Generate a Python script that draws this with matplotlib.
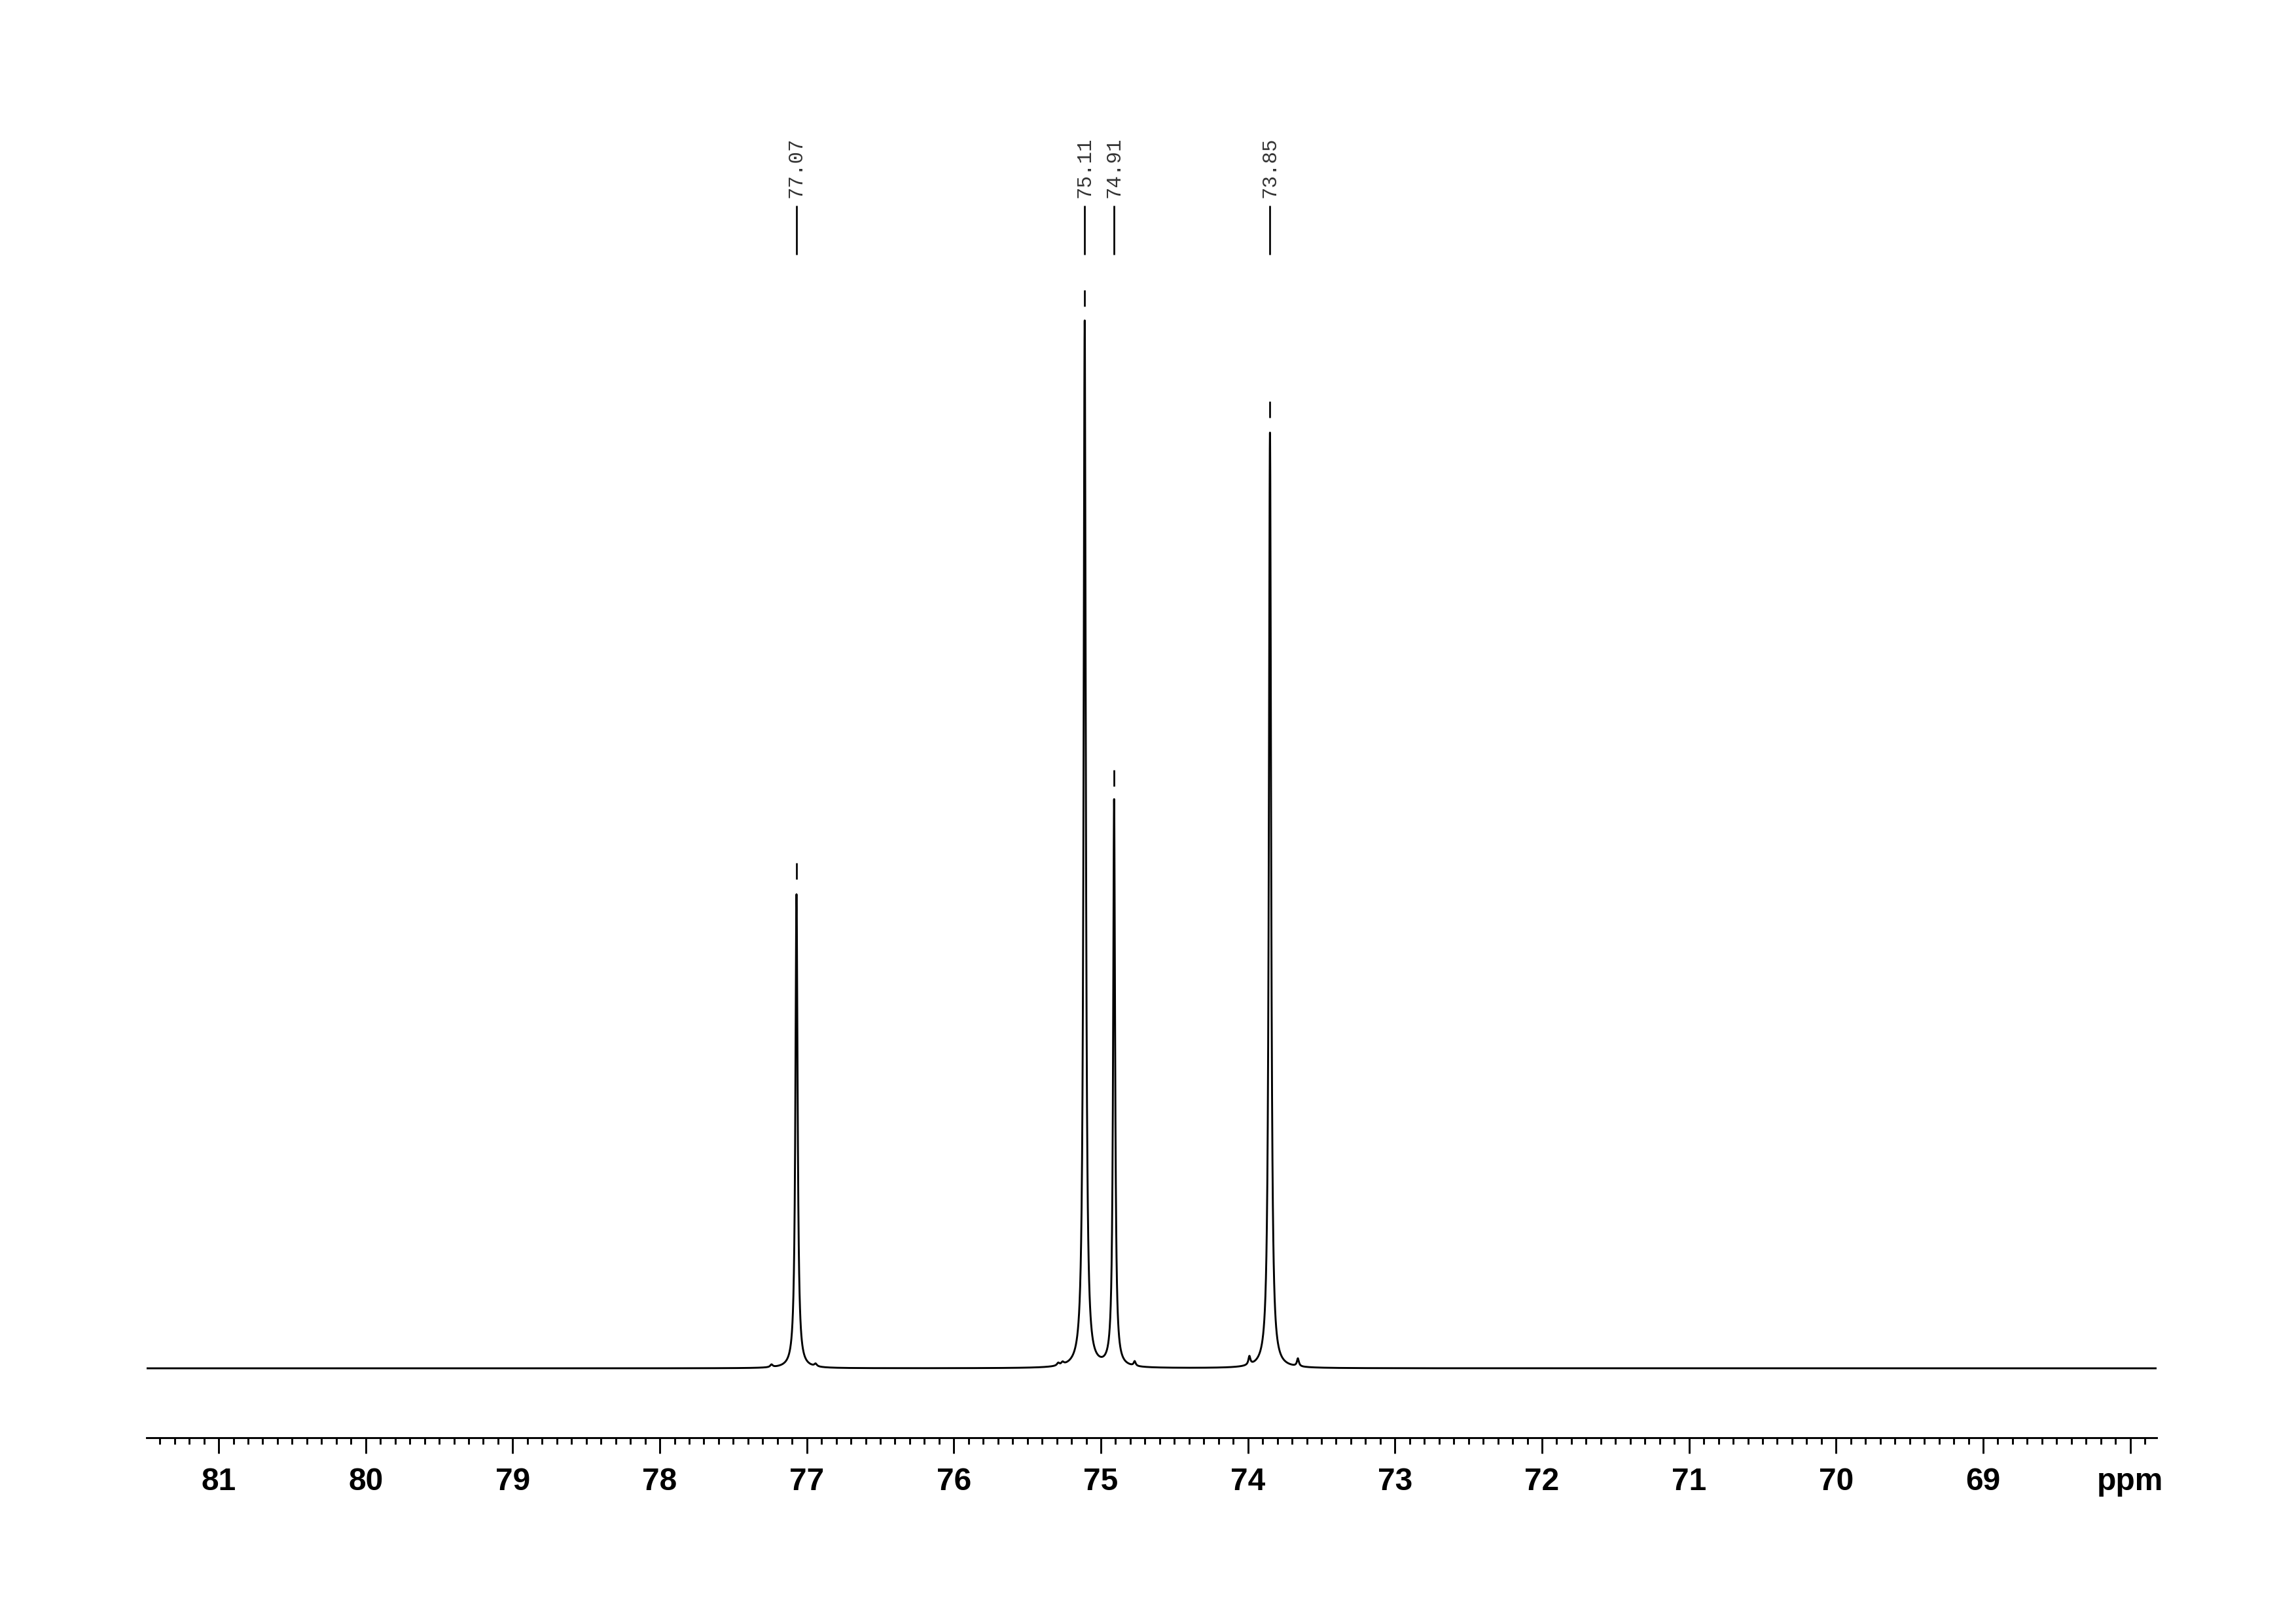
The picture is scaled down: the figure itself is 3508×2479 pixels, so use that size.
import numpy as np
import matplotlib
matplotlib.use('Agg')
import matplotlib.pyplot as plt

# Peak list (ppm, intensity in arbitrary units, half-width in ppm)
peak_ppm = [77.07, 75.11, 74.91, 73.85]
peak_height = [724, 1599, 866, 1429]
peak_hwhm = [0.009, 0.009, 0.008, 0.009]

# Small satellite bumps on the baseline
bump_ppm = [77.24, 76.94, 75.29, 75.26, 74.77, 73.99, 73.66]
bump_height = [4, 4, 4, 4, 7, 13, 12]
bump_hwhm = [0.01, 0.01, 0.01, 0.01, 0.008, 0.008, 0.008]

# Picked peak labels
label_ppm = [77.07, 75.11, 74.91, 73.85]
label_text = ['77.07', '75.11', '74.91', '73.85']

# Axis ticks
major_ticks = [81, 80, 79, 78, 77, 76, 75, 74, 73, 72, 71, 70, 69, 68]
major_labels = ['81', '80', '79', '78', '77', '76', '75', '74', '73', '72', '71', '70', '69', 'ppm']

x_left, x_right = 81.49, 67.82

# Build the spectrum from the peak list (Lorentzian lines)
ppm = np.arange(x_right, x_left, 0.0004)
spec = np.zeros_like(ppm)
for c, h, w in zip(peak_ppm + bump_ppm, peak_height + bump_height, peak_hwhm + bump_hwhm):
    spec += h / (1 + ((ppm - c) / w) ** 2)

fig = plt.figure(figsize=(3508 / 300, 2479 / 300), dpi=300)
ax = fig.add_axes([0.06385, 0.11416, 0.87545, 0.82534])

ax.plot(ppm, spec, color='black', lw=0.7)

# Peak markers just above each peak top
for c, h in zip(peak_ppm, peak_height):
    ax.vlines(c, h + 23, h + 48, color='black', lw=0.65)

# Peak labels with their lines
for c, t in zip(label_ppm, label_text):
    ax.vlines(c, 1701, 1776, color='black', lw=0.65, clip_on=False)
    ax.text(c, 1788, t, rotation=90, ha='center', va='bottom',
            family=['Liberation Mono', 'DejaVu Sans Mono'], fontsize=7.4,
            color='#333333', clip_on=False)

ax.set_xlim(x_left, x_right)
ax.set_ylim(-106, 1940)

for s in ['left', 'right', 'top']:
    ax.spines[s].set_visible(False)
ax.spines['bottom'].set_linewidth(0.7)
ax.set_yticks([])

ax.set_xticks(major_ticks)
ax.set_xticklabels(major_labels, fontweight='bold', fontsize=11.5,
                   family=['Liberation Sans Narrow', 'Liberation Sans'])
ax.set_xticks(np.arange(67.9, 81.45, 0.1), minor=True)
ax.tick_params(axis='x', which='major', length=5.8, width=0.7, pad=5, direction='out')
ax.tick_params(axis='x', which='minor', length=2.3, width=0.7, direction='out')

fig.savefig('out.png', dpi=300)
